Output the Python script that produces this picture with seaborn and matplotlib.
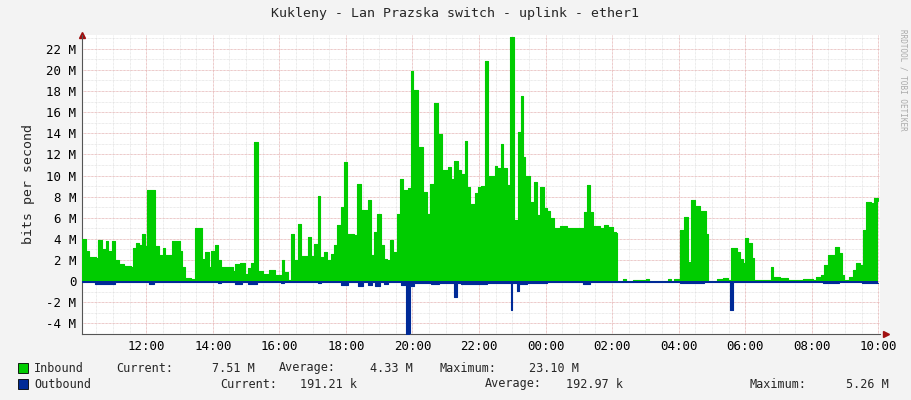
import numpy as np
import pandas as pd
import matplotlib
matplotlib.use("Agg")
import matplotlib.pyplot as plt
import seaborn as sns

# time in hours since 00:00 of the first day (values > 24 are the next day), bits in Mbit/s
in_time = [10.08, 10.18, 10.28, 10.48, 10.56, 10.68, 10.78, 10.86, 10.98, 11.06, 11.17, 11.32, 11.55,
           11.59, 11.70, 11.79, 11.87, 11.95, 12.03, 12.21, 12.25, 12.37, 12.50, 12.57, 12.77, 12.92,
           13.02, 13.08, 13.16, 13.36, 13.46, 13.61, 13.68, 13.78, 13.88, 13.96, 14.06, 14.16, 14.26,
           14.46, 14.61, 14.68, 14.81, 14.96, 15.06, 15.15, 15.23, 15.30, 15.35, 15.50, 15.70, 15.80,
           15.87, 16.03, 16.07, 16.13, 16.25, 16.35, 16.45, 16.57, 16.65, 16.77, 16.85, 16.95, 17.05,
           17.16, 17.22, 17.34, 17.44, 17.54, 17.64, 17.74, 17.84, 17.94, 18.04, 18.24, 18.34, 18.44,
           18.62, 18.66, 18.74, 18.84, 18.94, 19.04, 19.15, 19.25, 19.33, 19.43, 19.53, 19.63, 19.73,
           19.88, 19.95, 20.03, 20.18, 20.28, 20.33, 20.45, 20.53, 20.65, 20.78, 20.88, 20.93, 21.08,
           21.15, 21.24, 21.37, 21.47, 21.57, 21.64, 21.74, 21.87, 21.97,
           22.05, 22.17, 22.23, 22.27, 22.40, 22.47, 22.55, 22.67, 22.73, 22.85, 22.93, 23.01, 23.05,
           23.12, 23.16, 23.22, 23.26, 23.32, 23.39, 23.54, 23.64, 23.74, 23.84, 23.94, 24.04, 24.14,
           24.24, 24.44, 24.64, 25.04, 25.15, 25.25, 25.33, 25.43, 25.63, 25.75, 25.88, 26.03, 26.11,
           26.15, 26.33, 26.43, 26.63, 27.03, 27.12, 27.67, 27.77, 27.87, 28.00, 28.05, 28.17, 28.27,
           28.37, 28.50, 28.65, 28.75, 28.81, 28.87, 29.15, 29.34, 29.49, 29.56, 29.74, 29.84, 29.94,
           29.99, 30.09, 30.19, 30.26, 30.69, 30.76, 30.84, 31.04, 31.18, 31.28, 31.73, 32.03, 32.13,
           32.28, 32.38, 32.48, 32.63, 32.70, 32.81, 32.91, 32.98, 33.12, 33.24, 33.34, 33.44, 33.54,
           33.64, 33.77, 33.87, 34.00]
inbound = [4.0, 2.9, 2.3, 2.2, 3.9, 3.0, 3.8, 2.9, 3.8, 2.0, 1.6, 1.4, 1.3,
           3.1, 3.6, 3.4, 4.5, 3.3, 8.6, 8.6, 3.3, 2.5, 3.1, 2.5, 3.8, 3.8,
           2.9, 1.3, 0.3, 0.2, 5.0, 5.0, 2.1, 2.8, 1.3, 2.9, 3.4, 2.0, 1.3,
           1.3, 1.0, 1.6, 1.7, 0.7, 1.2, 1.7, 13.2, 13.2, 1.0, 0.7, 1.1, 1.1,
           0.6, 0.6, 2.0, 0.9, 0.1, 4.5, 2.0, 5.4, 2.4, 2.4, 4.2, 2.4, 3.5,
           8.1, 2.3, 2.8, 2.0, 2.6, 3.4, 5.3, 7.0, 11.3, 4.5, 4.4, 9.2, 6.7,
           6.6, 7.7, 2.5, 4.7, 6.4, 3.4, 2.1, 2.0, 3.9, 2.8, 6.4, 9.7, 8.6,
           8.8, 19.9, 18.1, 12.7, 12.7, 8.4, 6.4, 9.2, 16.9, 13.9, 9.2, 10.5, 10.8,
           9.7, 11.4, 10.5, 10.1, 13.3, 8.9, 7.3, 8.3, 8.9,
           9.0, 20.8, 20.8, 10.0, 10.0, 10.9, 10.7, 13.0, 10.7, 9.1, 23.1, 23.1, 5.8,
           5.8, 14.1, 14.1, 17.5, 11.8, 10.0, 7.5, 9.4, 6.3, 8.9, 6.9, 6.6, 6.0,
           5.05, 5.2, 5.05, 5.05, 6.5, 9.1, 6.5, 5.2, 5.05, 5.3, 5.1, 4.7, 4.6,
           0.05, 0.2, 0.05, 0.1, 0.25, 0.05, 0.25, 0.05, 0.2, 0.05, 4.8, 6.1, 1.8,
           7.7, 7.1, 6.6, 6.6, 4.5, 0.05, 0.2, 0.3, 0.1, 3.1, 2.8, 2.1, 1.7,
           4.1, 3.6, 2.2, 0.1, 0.1, 1.3, 0.4, 0.3, 0.3, 0.1, 0.2, 0.1, 0.4,
           0.6, 1.5, 2.5, 2.5, 3.2, 2.7, 0.6, 0.1, 0.4, 1.1, 1.7, 1.5, 4.8,
           7.5, 7.4, 7.9, 7.6]

out_time = [10.08, 10.47, 10.97, 11.05, 12.07, 12.22, 14.16, 14.24, 14.67, 14.87, 15.07, 15.32,
            16.06, 16.14, 17.16, 17.24, 17.86, 18.06, 18.36, 18.52, 18.66, 18.77, 18.86, 19.01,
            19.16, 19.26, 19.66, 19.80, 19.94, 20.06, 20.56, 20.81, 21.25, 21.35, 21.47, 22.05,
            22.25, 22.95, 23.00, 23.15, 23.21, 23.45, 24.05, 25.14, 25.35, 28.04, 28.75, 29.54,
            29.62, 30.03, 30.25, 30.73, 30.93, 32.35, 32.82, 33.52, 34.00]
outbound = [-0.05, -0.25, -0.25, -0.05, -0.25, -0.05, -0.2, -0.05, -0.25, -0.05, -0.25, -0.05,
            -0.2, -0.05, -0.2, -0.05, -0.35, -0.1, -0.5, -0.1, -0.4, -0.1, -0.5, -0.1,
            -0.3, -0.1, -0.4, -5.2, -0.5, -0.2, -0.3, -0.2, -1.5, -0.2, -0.25, -0.3,
            -0.2, -2.7, -0.2, -0.9, -0.3, -0.15, -0.05, -0.25, -0.05, -0.2, -0.05, -2.7,
            -0.05, -0.1, -0.05, -0.1, -0.05, -0.15, -0.05, -0.2, -0.2]

y_ticks = [-4, -2, 0, 2, 4, 6, 8, 10, 12, 14, 16, 18, 20, 22]
y_labels = ["-4 M", "-2 M", "0", "2 M", "4 M", "6 M", "8 M", "10 M", "12 M", "14 M",
            "16 M", "18 M", "20 M", "22 M"]
x_ticks = [12, 14, 16, 18, 20, 22, 24, 26, 28, 30, 32, 34]
x_labels = ["12:00", "14:00", "16:00", "18:00", "20:00", "22:00", "00:00", "02:00",
            "04:00", "06:00", "08:00", "10:00"]

sns.set_theme(style="white")
plt.rcParams["font.family"] = ["DejaVu Sans Mono"]

df_in = pd.DataFrame({"t": in_time, "v": inbound})
df_out = pd.DataFrame({"t": out_time, "v": outbound})

fig = plt.figure(figsize=(9.11, 4.0), dpi=100, facecolor="#F3F3F3")
ax = fig.add_axes([82 / 911, 1 - 334 / 400, 798 / 911, 299 / 400])
ax.set_facecolor("white")

green = "#00CC00"
blue = "#002A97"
ax.fill_between(df_in["t"], 0, df_in["v"], step="post", color=green, lw=0, zorder=3)
sns.lineplot(data=df_in, x="t", y="v", drawstyle="steps-post", color=green, lw=0.8, ax=ax, zorder=3)
ax.fill_between(df_out["t"], 0, df_out["v"], step="post", color=blue, lw=0, zorder=4)
sns.lineplot(data=df_out, x="t", y="v", drawstyle="steps-post", color=blue, lw=0.8, ax=ax, zorder=4)

ax.set_xlim(10.07, 34.05)
ax.set_ylim(-5.0, 23.3)

# grid: minor grey, major red
for yv in np.arange(-5, 24, 1):
    ax.axhline(yv, color="#D8D8D8", lw=0.5, ls=(0, (1, 1)), zorder=1)
for yv in y_ticks:
    ax.axhline(yv, color="#F0A8A8", lw=0.5, ls=(0, (1, 1)), zorder=2)
for xv in np.arange(10.5, 34.1, 0.5):
    ax.axvline(xv, color="#D8D8D8", lw=0.5, ls=(0, (1, 1)), zorder=1)
for xv in x_ticks:
    ax.axvline(xv, color="#F0A8A8", lw=0.5, ls=(0, (1, 1)), zorder=2)

ax.set_yticks(y_ticks)
ax.set_yticklabels(y_labels)
ax.set_xticks(x_ticks)
ax.set_xticklabels(x_labels)
ax.tick_params(labelsize=9, length=0, pad=4, colors="black")
ax.set_xlabel("")
ax.set_ylabel("bits per second", fontsize=9.5, labelpad=8)

for s in ["top", "right"]:
    ax.spines[s].set_visible(False)
for s in ["left", "bottom"]:
    ax.spines[s].set_color("#555555")
    ax.spines[s].set_linewidth(0.8)
ax.plot(1.008, 0, ">", color="#A01010", ms=4, transform=ax.transAxes, clip_on=False)
ax.plot(0, 1.0, "^", color="#A01010", ms=4, transform=ax.transAxes, clip_on=False)

fig.text(455 / 911, 1 - 14 / 400, "Kukleny - Lan Prazska switch - uplink - ether1",
         ha="center", va="center", fontsize=9.5)
fig.text(903 / 911, 1 - 80 / 400, "RRDTOOL / TOBI OETIKER", rotation=270,
         ha="center", va="center", fontsize=5.5, color="#AAAAAA")

# legend
def legend_row(y, color, parts):
    fig.patches.append(plt.Rectangle((18 / 911, 1 - (y + 5) / 400), 10 / 911, 10 / 400,
                                     transform=fig.transFigure, facecolor=color,
                                     edgecolor="black", lw=0.6))
    for xpx, txt in parts:
        fig.text(xpx / 911, 1 - y / 400, txt, ha="left", va="center", fontsize=8.5)

legend_row(368, green, [(34, "Inbound"), (116, "Current:"), (212, "7.51 M"), (279, "Average:"),
                        (370, "4.33 M"), (440, "Maximum:"), (529, "23.10 M")])
legend_row(384, blue, [(34, "Outbound"), (220, "Current:"), (300, "191.21 k"), (485, "Average:"),
                       (566, "192.97 k"), (750, "Maximum:"), (846, "5.26 M")])

fig.savefig("out.png", dpi=100, facecolor=fig.get_facecolor())
